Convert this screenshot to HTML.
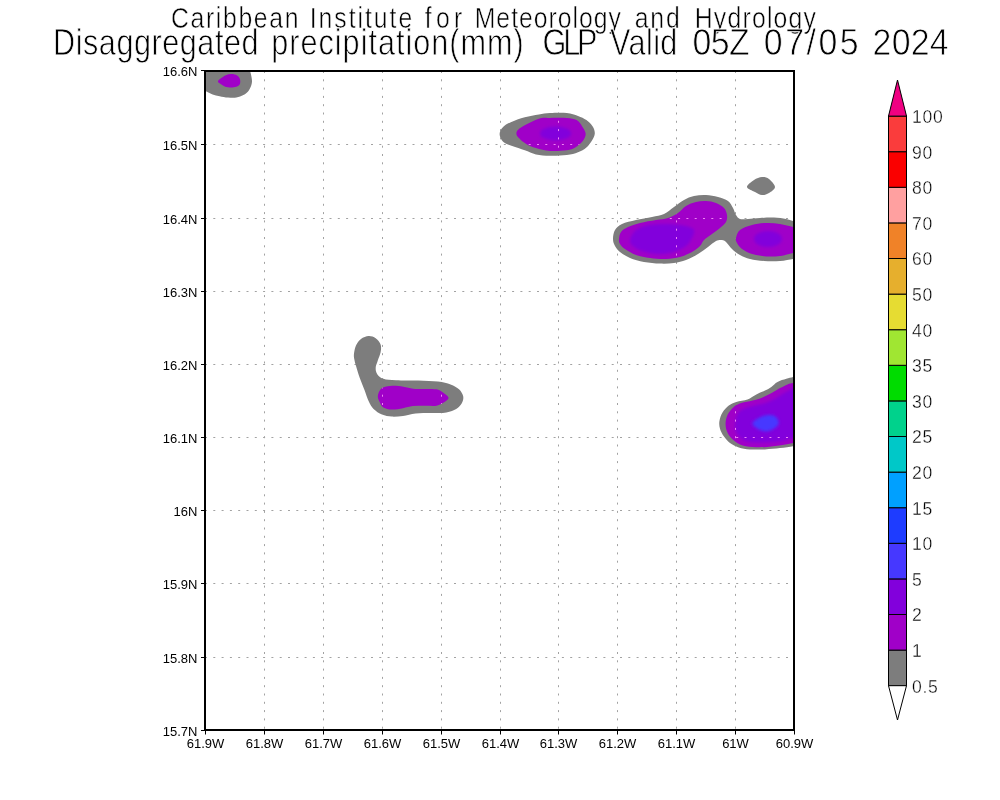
<!DOCTYPE html>
<html><head><meta charset="utf-8"><title>Disaggregated precipitation</title>
<style>
html,body{margin:0;padding:0;background:#fff;}
body{width:1000px;height:800px;overflow:hidden;}
svg{display:block;}
text{font-family:"Liberation Sans",sans-serif;fill:#000;}
.t1{font-size:29.5px;}
.t2{font-size:36.5px;}
.ax text{font-size:13px;}
.cb text{font-size:17.6px;letter-spacing:0.7px;}
.thin text{stroke:#fff;stroke-width:0.8px;}
.thin text.t1{stroke-width:0.55px;}
.cb .thin text{stroke-width:0.35px;}
</style></head><body>
<svg width="1000" height="800" viewBox="0 0 1000 800">
<defs>
<filter id="b" x="-30%" y="-30%" width="160%" height="160%"><feGaussianBlur stdDeviation="1.8"/></filter>
<clipPath id="mc"><path d="M217.9,81.5 C217.9,80.5 219.7,79.3 221.0,78.3 C222.3,77.2 224.2,75.9 225.9,75.2 C227.7,74.5 229.6,74.0 231.5,74.1 C233.4,74.1 235.7,74.7 237.1,75.5 C238.5,76.3 239.4,77.6 239.9,79.0 C240.4,80.4 240.5,82.6 239.9,83.9 C239.3,85.2 237.9,86.1 236.4,86.7 C234.9,87.3 232.7,87.4 230.8,87.4 C228.9,87.4 226.8,87.2 225.2,86.7 C223.6,86.2 222.2,85.2 221.0,84.3 C219.8,83.4 217.9,82.5 217.9,81.5Z"/><path d="M516.4,133.4 C516.6,131.7 516.9,130.2 520.6,127.8 C524.3,125.3 533.9,120.3 538.8,118.7 C543.7,117.1 545.3,118.1 550.0,118.0 C554.7,117.9 562.4,117.7 566.8,118.0 C571.2,118.3 574.0,118.7 576.6,120.1 C579.2,121.5 580.7,124.1 582.2,126.4 C583.7,128.7 585.7,131.5 585.7,134.1 C585.7,136.7 584.0,139.6 582.2,141.8 C580.5,144.0 577.8,146.0 575.2,147.4 C572.6,148.8 571.0,149.6 566.8,150.2 C562.6,150.8 555.1,151.2 550.0,150.9 C544.9,150.6 540.0,149.3 536.0,148.1 C532.0,146.9 529.0,145.5 526.2,143.9 C523.4,142.3 520.8,140.1 519.2,138.3 C517.6,136.6 516.2,135.2 516.4,133.4Z"/><path d="M619.0,239.0 C619.2,237.0 619.5,234.0 621.0,232.0 C622.5,230.0 624.8,228.5 628.0,227.0 C631.2,225.5 635.3,224.2 640.0,223.0 C644.7,221.8 651.3,220.8 656.0,220.0 C660.7,219.2 664.3,219.2 668.0,218.0 C671.7,216.8 675.0,215.0 678.0,213.0 C681.0,211.0 683.0,207.8 686.0,206.0 C689.0,204.2 692.7,202.8 696.0,202.0 C699.3,201.2 702.7,200.8 706.0,201.0 C709.3,201.2 713.0,201.8 716.0,203.0 C719.0,204.2 722.2,206.0 724.0,208.0 C725.8,210.0 726.7,212.7 727.0,215.0 C727.3,217.3 727.2,219.8 726.0,222.0 C724.8,224.2 722.3,226.0 720.0,228.0 C717.7,230.0 714.7,232.0 712.0,234.0 C709.3,236.0 706.0,238.0 704.0,240.0 C702.0,242.0 702.0,244.0 700.0,246.0 C698.0,248.0 695.3,250.2 692.0,252.0 C688.7,253.8 684.3,255.8 680.0,257.0 C675.7,258.2 671.0,258.8 666.0,259.0 C661.0,259.2 655.0,258.7 650.0,258.0 C645.0,257.3 640.2,256.5 636.0,255.0 C631.8,253.5 627.7,250.8 625.0,249.0 C622.3,247.2 621.0,245.7 620.0,244.0 C619.0,242.3 618.8,241.0 619.0,239.0Z"/><path d="M736.0,238.0 C736.5,235.8 737.3,232.2 740.0,230.0 C742.7,227.8 747.7,226.2 752.0,225.0 C756.3,223.8 761.3,223.2 766.0,223.0 C770.7,222.8 775.5,223.3 780.0,224.0 C784.5,224.7 789.7,226.3 793.0,227.0 C796.3,227.7 798.8,223.8 800.0,228.0 C801.2,232.2 801.2,247.8 800.0,252.0 C798.8,256.2 796.3,252.3 793.0,253.0 C789.7,253.7 784.5,255.4 780.0,256.0 C775.5,256.6 770.7,256.7 766.0,256.4 C761.3,256.1 756.0,255.2 752.0,254.0 C748.0,252.8 744.5,250.8 742.0,249.0 C739.5,247.2 738.0,244.8 737.0,243.0 C736.0,241.2 735.5,240.2 736.0,238.0Z"/><path d="M377.8,396.3 C377.9,394.1 379.2,390.9 380.6,389.3 C382.0,387.7 383.6,387.1 386.2,386.5 C388.8,385.9 392.7,385.7 396.0,385.8 C399.3,385.9 402.5,386.7 405.8,387.2 C409.1,387.7 412.1,388.6 415.6,388.9 C419.1,389.2 423.3,388.8 426.8,388.9 C430.3,389.0 434.0,388.8 436.6,389.3 C439.2,389.8 440.2,390.7 442.2,392.1 C444.2,393.5 448.3,395.9 448.5,397.7 C448.7,399.4 445.6,401.3 443.6,402.6 C441.6,403.9 439.9,405.2 436.6,405.7 C433.3,406.2 428.0,405.6 424.0,405.7 C420.0,405.8 416.3,405.7 412.8,406.1 C409.3,406.5 406.5,407.6 403.0,408.2 C399.5,408.8 395.1,409.7 391.8,409.6 C388.5,409.5 385.4,408.7 383.4,407.5 C381.4,406.3 380.8,404.5 379.9,402.6 C379.0,400.7 377.7,398.5 377.8,396.3Z"/><path d="M800.0,382.0 C798.9,372.2 795.2,382.7 793.1,383.1 C791.0,383.5 789.7,383.6 787.5,384.4 C785.3,385.2 782.5,386.8 780.0,388.1 C777.5,389.5 775.4,390.9 772.5,392.5 C769.6,394.1 765.8,396.1 762.5,397.5 C759.2,398.9 756.0,399.7 752.5,400.6 C749.0,401.5 744.4,402.1 741.3,403.1 C738.2,404.2 736.0,405.1 733.8,406.9 C731.6,408.7 729.5,411.2 728.1,413.8 C726.7,416.4 725.8,419.6 725.6,422.5 C725.4,425.4 725.9,428.6 726.9,431.3 C727.9,434.0 729.7,436.6 731.9,438.8 C734.1,441.0 736.6,443.0 740.0,444.4 C743.4,445.8 747.9,446.5 752.5,446.9 C757.1,447.3 762.5,447.2 767.5,446.9 C772.5,446.6 778.2,445.6 782.5,445.0 C786.8,444.4 790.2,443.6 793.1,443.1 C796.0,442.6 798.9,452.2 800.0,442.0 C801.1,431.8 801.1,391.8 800.0,382.0Z"/></clipPath>
<clipPath id="pc"><rect x="205.0" y="71.0" width="589.0" height="659.0"/></clipPath>
</defs>
<rect width="1000" height="800" fill="#fff"/>
<g class="thin">
<text class="t1" y="28" transform="scale(0.84,1)" x="203.57" textLength="151.79" lengthAdjust="spacing">Caribbean</text>
<text class="t1" y="28" transform="scale(0.84,1)" x="368.75" textLength="122.02" lengthAdjust="spacing">Institute</text>
<text class="t1" y="28" transform="scale(0.84,1)" x="505.65" textLength="44.64" lengthAdjust="spacing">for</text>
<text class="t1" y="28" transform="scale(0.84,1)" x="565.18" textLength="174.11" lengthAdjust="spacing">Meteorology</text>
<text class="t1" y="28" transform="scale(0.84,1)" x="755.65" textLength="53.57" lengthAdjust="spacing">and</text>
<text class="t1" y="28" transform="scale(0.84,1)" x="827.08" textLength="144.35" lengthAdjust="spacing">Hydrology</text>

<text class="t2" y="55.5" transform="scale(0.84,1)" x="63.21" textLength="244.64" lengthAdjust="spacing">Disaggregated</text>
<text class="t2" y="55.5" transform="scale(0.84,1)" x="323.04" textLength="300.30" lengthAdjust="spacing">precipitation(mm)</text>
<text class="t2" y="55.5" transform="scale(0.84,1)" x="645.95" textLength="65.18" lengthAdjust="spacing">GLP</text>
<text class="t2" y="55.5" transform="scale(0.84,1)" x="726.31" textLength="80.06" lengthAdjust="spacing">Valid</text>
<text class="t2" y="55.5" transform="scale(0.93,1)" x="744.73" textLength="61.56" lengthAdjust="spacing">05Z</text>
<text class="t2" y="55.5" transform="scale(0.93,1)" x="821.34" textLength="101.88" lengthAdjust="spacing">07/05</text>
<text class="t2" y="55.5" transform="scale(0.93,1)" x="938.28" textLength="81.72" lengthAdjust="spacing">2024</text>

</g>
<g stroke="#a2a2a2" stroke-width="1" stroke-dasharray="2 6.3" fill="none">
<line x1="264.50" y1="71.0" x2="264.50" y2="729.0"/>
<line x1="323.50" y1="71.0" x2="323.50" y2="729.0"/>
<line x1="382.50" y1="71.0" x2="382.50" y2="729.0"/>
<line x1="441.50" y1="71.0" x2="441.50" y2="729.0"/>
<line x1="500.50" y1="71.0" x2="500.50" y2="729.0"/>
<line x1="558.50" y1="71.0" x2="558.50" y2="729.0"/>
<line x1="617.50" y1="71.0" x2="617.50" y2="729.0"/>
<line x1="676.50" y1="71.0" x2="676.50" y2="729.0"/>
<line x1="735.50" y1="71.0" x2="735.50" y2="729.0"/>
<line x1="205.0" y1="144.50" x2="793.0" y2="144.50"/>
<line x1="205.0" y1="218.50" x2="793.0" y2="218.50"/>
<line x1="205.0" y1="291.50" x2="793.0" y2="291.50"/>
<line x1="205.0" y1="364.50" x2="793.0" y2="364.50"/>
<line x1="205.0" y1="437.50" x2="793.0" y2="437.50"/>
<line x1="205.0" y1="510.50" x2="793.0" y2="510.50"/>
<line x1="205.0" y1="583.50" x2="793.0" y2="583.50"/>
<line x1="205.0" y1="657.50" x2="793.0" y2="657.50"/>
</g>
<g clip-path="url(#pc)">
<path d="M196.0,56.0 C203.8,51.0 234.2,54.0 243.0,56.0 C251.8,58.0 247.6,64.5 249.0,68.0 C250.4,71.5 251.0,74.4 251.5,76.9 C252.0,79.4 252.2,81.0 251.8,83.2 C251.4,85.4 250.4,88.2 249.0,90.2 C247.6,92.2 245.5,93.9 243.4,95.1 C241.3,96.3 239.0,97.2 236.4,97.6 C233.8,98.0 230.8,97.8 228.0,97.6 C225.2,97.4 222.2,96.7 219.6,96.2 C217.0,95.7 214.9,95.2 212.6,94.4 C210.3,93.6 208.8,92.7 206.0,91.3 C203.2,89.9 197.7,91.9 196.0,86.0 C194.3,80.1 188.2,61.0 196.0,56.0Z" fill="#7d7d7d" />
<path d="M217.9,81.5 C217.9,80.5 219.7,79.3 221.0,78.3 C222.3,77.2 224.2,75.9 225.9,75.2 C227.7,74.5 229.6,74.0 231.5,74.1 C233.4,74.1 235.7,74.7 237.1,75.5 C238.5,76.3 239.4,77.6 239.9,79.0 C240.4,80.4 240.5,82.6 239.9,83.9 C239.3,85.2 237.9,86.1 236.4,86.7 C234.9,87.3 232.7,87.4 230.8,87.4 C228.9,87.4 226.8,87.2 225.2,86.7 C223.6,86.2 222.2,85.2 221.0,84.3 C219.8,83.4 217.9,82.5 217.9,81.5Z" fill="#a000c8" />
<path d="M499.6,134.1 C499.6,131.6 501.2,129.1 503.1,127.1 C505.0,125.1 507.2,123.8 510.8,122.2 C514.4,120.6 520.1,118.6 524.8,117.3 C529.5,116.0 534.6,115.2 538.8,114.5 C543.0,113.8 545.3,113.3 550.0,113.1 C554.7,112.9 562.1,112.6 566.8,113.1 C571.5,113.6 574.7,114.7 578.0,115.9 C581.3,117.1 583.9,118.3 586.4,120.1 C588.9,121.8 591.3,124.2 592.7,126.4 C594.1,128.6 594.9,131.1 594.8,133.4 C594.7,135.7 593.4,138.1 592.0,140.4 C590.6,142.7 588.7,145.4 586.4,147.4 C584.1,149.4 581.3,151.0 578.0,152.3 C574.7,153.6 571.5,154.5 566.8,155.1 C562.1,155.7 555.1,155.9 550.0,155.8 C544.9,155.7 540.2,155.3 536.0,154.4 C531.8,153.5 528.8,151.6 524.8,150.2 C520.8,148.8 515.8,147.4 512.2,146.0 C508.6,144.6 505.2,143.8 503.1,141.8 C501.0,139.8 499.6,136.6 499.6,134.1Z" fill="#7d7d7d" />
<path d="M516.4,133.4 C516.6,131.7 516.9,130.2 520.6,127.8 C524.3,125.3 533.9,120.3 538.8,118.7 C543.7,117.1 545.3,118.1 550.0,118.0 C554.7,117.9 562.4,117.7 566.8,118.0 C571.2,118.3 574.0,118.7 576.6,120.1 C579.2,121.5 580.7,124.1 582.2,126.4 C583.7,128.7 585.7,131.5 585.7,134.1 C585.7,136.7 584.0,139.6 582.2,141.8 C580.5,144.0 577.8,146.0 575.2,147.4 C572.6,148.8 571.0,149.6 566.8,150.2 C562.6,150.8 555.1,151.2 550.0,150.9 C544.9,150.6 540.0,149.3 536.0,148.1 C532.0,146.9 529.0,145.5 526.2,143.9 C523.4,142.3 520.8,140.1 519.2,138.3 C517.6,136.6 516.2,135.2 516.4,133.4Z" fill="#a000c8" />
<ellipse cx="555.6" cy="133.4" rx="15.5" ry="7" fill="#8200dc" filter="url(#b)"/>
<path d="M613.0,239.0 C613.0,236.3 613.5,232.5 615.0,230.0 C616.5,227.5 618.5,225.7 622.0,224.0 C625.5,222.3 631.0,221.2 636.0,220.0 C641.0,218.8 647.3,218.0 652.0,217.0 C656.7,216.0 660.3,215.7 664.0,214.0 C667.7,212.3 670.7,209.3 674.0,207.0 C677.3,204.7 680.7,201.8 684.0,200.0 C687.3,198.2 690.3,196.8 694.0,196.0 C697.7,195.2 702.0,194.8 706.0,195.0 C710.0,195.2 714.3,196.0 718.0,197.0 C721.7,198.0 725.5,199.2 728.0,201.0 C730.5,202.8 731.7,205.7 733.0,208.0 C734.3,210.3 734.8,213.2 736.0,215.0 C737.2,216.8 738.0,218.3 740.0,219.0 C742.0,219.7 744.7,219.2 748.0,219.0 C751.3,218.8 755.7,218.2 760.0,218.0 C764.3,217.8 769.7,217.4 774.0,217.6 C778.3,217.8 782.8,218.4 786.0,219.0 C789.2,219.6 790.7,220.3 793.0,221.0 C795.3,221.7 798.8,216.8 800.0,223.0 C801.2,229.2 801.2,252.0 800.0,258.0 C798.8,264.0 796.3,258.5 793.0,259.0 C789.7,259.5 784.8,260.7 780.0,261.0 C775.2,261.3 769.0,261.3 764.0,261.0 C759.0,260.7 754.0,260.0 750.0,259.0 C746.0,258.0 743.0,256.7 740.0,255.0 C737.0,253.3 734.3,251.2 732.0,249.0 C729.7,246.8 727.7,243.5 726.0,242.0 C724.3,240.5 723.7,240.2 722.0,240.0 C720.3,239.8 718.3,239.8 716.0,241.0 C713.7,242.2 711.0,244.8 708.0,247.0 C705.0,249.2 701.7,251.8 698.0,254.0 C694.3,256.2 690.0,258.5 686.0,260.0 C682.0,261.5 678.3,262.4 674.0,263.0 C669.7,263.6 665.0,263.8 660.0,263.6 C655.0,263.4 649.0,262.9 644.0,262.0 C639.0,261.1 634.0,259.7 630.0,258.0 C626.0,256.3 622.5,254.0 620.0,252.0 C617.5,250.0 616.2,248.2 615.0,246.0 C613.8,243.8 613.0,241.7 613.0,239.0Z" fill="#7d7d7d" />
<path d="M619.0,239.0 C619.2,237.0 619.5,234.0 621.0,232.0 C622.5,230.0 624.8,228.5 628.0,227.0 C631.2,225.5 635.3,224.2 640.0,223.0 C644.7,221.8 651.3,220.8 656.0,220.0 C660.7,219.2 664.3,219.2 668.0,218.0 C671.7,216.8 675.0,215.0 678.0,213.0 C681.0,211.0 683.0,207.8 686.0,206.0 C689.0,204.2 692.7,202.8 696.0,202.0 C699.3,201.2 702.7,200.8 706.0,201.0 C709.3,201.2 713.0,201.8 716.0,203.0 C719.0,204.2 722.2,206.0 724.0,208.0 C725.8,210.0 726.7,212.7 727.0,215.0 C727.3,217.3 727.2,219.8 726.0,222.0 C724.8,224.2 722.3,226.0 720.0,228.0 C717.7,230.0 714.7,232.0 712.0,234.0 C709.3,236.0 706.0,238.0 704.0,240.0 C702.0,242.0 702.0,244.0 700.0,246.0 C698.0,248.0 695.3,250.2 692.0,252.0 C688.7,253.8 684.3,255.8 680.0,257.0 C675.7,258.2 671.0,258.8 666.0,259.0 C661.0,259.2 655.0,258.7 650.0,258.0 C645.0,257.3 640.2,256.5 636.0,255.0 C631.8,253.5 627.7,250.8 625.0,249.0 C622.3,247.2 621.0,245.7 620.0,244.0 C619.0,242.3 618.8,241.0 619.0,239.0Z" fill="#a000c8" />
<path d="M630.0,240.0 C630.5,237.3 632.7,232.5 636.0,230.0 C639.3,227.5 644.3,226.0 650.0,225.0 C655.7,224.0 664.0,223.8 670.0,224.0 C676.0,224.2 682.0,225.0 686.0,226.0 C690.0,227.0 693.0,228.0 694.0,230.0 C695.0,232.0 693.3,235.3 692.0,238.0 C690.7,240.7 689.0,243.7 686.0,246.0 C683.0,248.3 678.7,250.7 674.0,252.0 C669.3,253.3 663.3,254.2 658.0,254.0 C652.7,253.8 646.2,252.3 642.0,251.0 C637.8,249.7 635.0,247.8 633.0,246.0 C631.0,244.2 629.5,242.7 630.0,240.0Z" fill="#8200dc" filter="url(#b)"/>
<path d="M736.0,238.0 C736.5,235.8 737.3,232.2 740.0,230.0 C742.7,227.8 747.7,226.2 752.0,225.0 C756.3,223.8 761.3,223.2 766.0,223.0 C770.7,222.8 775.5,223.3 780.0,224.0 C784.5,224.7 789.7,226.3 793.0,227.0 C796.3,227.7 798.8,223.8 800.0,228.0 C801.2,232.2 801.2,247.8 800.0,252.0 C798.8,256.2 796.3,252.3 793.0,253.0 C789.7,253.7 784.5,255.4 780.0,256.0 C775.5,256.6 770.7,256.7 766.0,256.4 C761.3,256.1 756.0,255.2 752.0,254.0 C748.0,252.8 744.5,250.8 742.0,249.0 C739.5,247.2 738.0,244.8 737.0,243.0 C736.0,241.2 735.5,240.2 736.0,238.0Z" fill="#a000c8" />
<ellipse cx="768" cy="239" rx="14" ry="8" fill="#8200dc" filter="url(#b)"/>
<path d="M747.0,187.0 C746.8,185.0 751.5,181.7 754.0,180.0 C756.5,178.3 759.5,177.2 762.0,177.0 C764.5,176.8 766.8,177.3 769.0,179.0 C771.2,180.7 775.0,184.7 775.0,187.0 C775.0,189.3 771.2,191.7 769.0,193.0 C766.8,194.3 764.3,195.2 762.0,195.0 C759.7,194.8 757.5,193.3 755.0,192.0 C752.5,190.7 747.2,189.0 747.0,187.0Z" fill="#7d7d7d" />
<path d="M354.0,353.6 C354.3,351.3 354.9,347.6 356.1,345.2 C357.3,342.8 358.9,340.4 361.0,338.9 C363.1,337.4 366.2,336.2 368.7,336.1 C371.1,336.0 373.7,336.8 375.7,338.2 C377.7,339.6 379.8,342.2 380.6,344.5 C381.4,346.8 381.1,349.5 380.6,352.2 C380.1,354.9 378.6,358.0 377.8,360.6 C377.0,363.2 375.8,365.4 375.7,367.6 C375.6,369.8 375.8,372.0 377.1,373.9 C378.4,375.8 380.2,377.8 383.4,378.8 C386.5,379.9 390.2,379.9 396.0,380.2 C401.8,380.5 411.4,380.3 418.4,380.5 C425.4,380.7 432.6,381.0 438.0,381.6 C443.4,382.2 447.1,383.1 450.6,384.4 C454.1,385.7 456.9,387.3 459.0,389.3 C461.1,391.3 462.7,394.0 463.2,396.3 C463.7,398.6 463.0,401.2 461.8,403.3 C460.6,405.4 458.8,407.4 456.2,408.9 C453.6,410.4 450.6,411.7 446.4,412.4 C442.2,413.1 436.1,412.9 431.0,413.1 C425.9,413.3 420.3,413.0 415.6,413.5 C410.9,414.0 407.0,415.4 403.0,415.9 C399.0,416.4 395.3,416.8 391.8,416.6 C388.3,416.4 385.0,415.8 382.0,414.5 C379.0,413.2 375.8,411.1 373.6,408.9 C371.4,406.7 370.2,404.3 368.7,401.2 C367.2,398.1 366.0,394.0 364.5,390.0 C363.0,386.0 361.0,381.4 359.6,377.4 C358.2,373.4 357.0,369.2 356.1,366.2 C355.2,363.2 354.7,361.3 354.3,359.2 C353.9,357.1 353.7,355.9 354.0,353.6Z" fill="#7d7d7d" />
<path d="M377.8,396.3 C377.9,394.1 379.2,390.9 380.6,389.3 C382.0,387.7 383.6,387.1 386.2,386.5 C388.8,385.9 392.7,385.7 396.0,385.8 C399.3,385.9 402.5,386.7 405.8,387.2 C409.1,387.7 412.1,388.6 415.6,388.9 C419.1,389.2 423.3,388.8 426.8,388.9 C430.3,389.0 434.0,388.8 436.6,389.3 C439.2,389.8 440.2,390.7 442.2,392.1 C444.2,393.5 448.3,395.9 448.5,397.7 C448.7,399.4 445.6,401.3 443.6,402.6 C441.6,403.9 439.9,405.2 436.6,405.7 C433.3,406.2 428.0,405.6 424.0,405.7 C420.0,405.8 416.3,405.7 412.8,406.1 C409.3,406.5 406.5,407.6 403.0,408.2 C399.5,408.8 395.1,409.7 391.8,409.6 C388.5,409.5 385.4,408.7 383.4,407.5 C381.4,406.3 380.8,404.5 379.9,402.6 C379.0,400.7 377.7,398.5 377.8,396.3Z" fill="#a000c8" />
<path d="M800.0,376.0 C798.9,364.6 795.4,376.4 793.1,376.9 C790.8,377.4 788.9,378.0 786.3,378.8 C783.7,379.6 780.0,380.5 777.5,381.9 C775.0,383.2 773.4,385.4 771.3,386.9 C769.2,388.3 767.5,389.4 765.0,390.6 C762.5,391.9 759.2,392.9 756.3,394.4 C753.4,395.9 750.8,398.1 747.5,399.4 C744.2,400.6 739.4,400.9 736.3,401.9 C733.2,402.9 731.1,403.8 728.8,405.6 C726.5,407.4 724.1,409.9 722.5,412.5 C720.9,415.1 719.8,418.6 719.4,421.3 C719.0,424.0 719.3,426.3 720.0,428.8 C720.7,431.3 722.1,433.9 723.8,436.3 C725.5,438.7 727.5,441.2 730.0,443.1 C732.5,445.0 735.5,446.4 738.8,447.5 C742.1,448.6 745.6,449.1 750.0,449.4 C754.4,449.7 760.0,449.6 765.0,449.4 C770.0,449.2 775.3,448.6 780.0,448.1 C784.7,447.6 789.8,446.8 793.1,446.3 C796.4,445.8 798.9,456.7 800.0,445.0 C801.1,433.3 801.1,387.4 800.0,376.0Z" fill="#7d7d7d" />
<path d="M800.0,382.0 C798.9,372.2 795.2,382.7 793.1,383.1 C791.0,383.5 789.7,383.6 787.5,384.4 C785.3,385.2 782.5,386.8 780.0,388.1 C777.5,389.5 775.4,390.9 772.5,392.5 C769.6,394.1 765.8,396.1 762.5,397.5 C759.2,398.9 756.0,399.7 752.5,400.6 C749.0,401.5 744.4,402.1 741.3,403.1 C738.2,404.2 736.0,405.1 733.8,406.9 C731.6,408.7 729.5,411.2 728.1,413.8 C726.7,416.4 725.8,419.6 725.6,422.5 C725.4,425.4 725.9,428.6 726.9,431.3 C727.9,434.0 729.7,436.6 731.9,438.8 C734.1,441.0 736.6,443.0 740.0,444.4 C743.4,445.8 747.9,446.5 752.5,446.9 C757.1,447.3 762.5,447.2 767.5,446.9 C772.5,446.6 778.2,445.6 782.5,445.0 C786.8,444.4 790.2,443.6 793.1,443.1 C796.0,442.6 798.9,452.2 800.0,442.0 C801.1,431.8 801.1,391.8 800.0,382.0Z" fill="#a000c8" />
<path d="M800.0,384.5 C798.9,376.5 795.6,386.8 793.1,388.2 C790.6,389.6 788.0,390.8 785.0,392.6 C782.0,394.4 778.3,397.0 775.0,398.8 C771.7,400.6 768.5,402.1 765.0,403.2 C761.5,404.3 757.2,404.8 753.8,405.7 C750.3,406.6 746.9,407.4 744.3,408.6 C741.7,409.8 739.7,410.9 738.2,413.0 C736.8,415.1 736.0,418.5 735.6,421.3 C735.2,424.1 734.9,427.3 735.6,430.0 C736.3,432.7 737.6,435.5 740.0,437.5 C742.4,439.5 745.8,441.1 750.0,441.9 C754.2,442.7 760.0,442.6 765.0,442.5 C770.0,442.4 775.3,442.0 780.0,441.3 C784.7,440.6 789.8,439.0 793.1,438.1 C796.4,437.2 798.9,444.9 800.0,436.0 C801.1,427.1 801.1,392.5 800.0,384.5Z" fill="#8200dc" filter="url(#b)"/>
<path d="M752.5,423.8 C752.3,421.8 756.3,419.6 758.8,418.1 C761.3,416.6 764.8,415.3 767.5,415.0 C770.2,414.7 773.1,415.1 775.0,416.3 C776.9,417.6 778.8,420.5 778.8,422.5 C778.8,424.5 776.9,426.6 775.0,428.1 C773.1,429.6 770.0,431.0 767.5,431.3 C765.0,431.6 762.5,431.2 760.0,430.0 C757.5,428.8 752.7,425.8 752.5,423.8Z" fill="#4638ff" filter="url(#b)"/>
</g>
<g clip-path="url(#mc)"><g stroke="#ee86f4" stroke-width="1" stroke-dasharray="2 6.3" fill="none">
<line x1="264.50" y1="71.0" x2="264.50" y2="729.0"/>
<line x1="323.50" y1="71.0" x2="323.50" y2="729.0"/>
<line x1="382.50" y1="71.0" x2="382.50" y2="729.0"/>
<line x1="441.50" y1="71.0" x2="441.50" y2="729.0"/>
<line x1="500.50" y1="71.0" x2="500.50" y2="729.0"/>
<line x1="558.50" y1="71.0" x2="558.50" y2="729.0"/>
<line x1="617.50" y1="71.0" x2="617.50" y2="729.0"/>
<line x1="676.50" y1="71.0" x2="676.50" y2="729.0"/>
<line x1="735.50" y1="71.0" x2="735.50" y2="729.0"/>
<line x1="205.0" y1="144.50" x2="793.0" y2="144.50"/>
<line x1="205.0" y1="218.50" x2="793.0" y2="218.50"/>
<line x1="205.0" y1="291.50" x2="793.0" y2="291.50"/>
<line x1="205.0" y1="364.50" x2="793.0" y2="364.50"/>
<line x1="205.0" y1="437.50" x2="793.0" y2="437.50"/>
<line x1="205.0" y1="510.50" x2="793.0" y2="510.50"/>
<line x1="205.0" y1="583.50" x2="793.0" y2="583.50"/>
<line x1="205.0" y1="657.50" x2="793.0" y2="657.50"/>
</g></g>
<rect x="205.0" y="71.0" width="589.0" height="659.0" fill="none" stroke="#000" stroke-width="2"/>
<g stroke="#000" stroke-width="1">
<line x1="201.0" y1="70.50" x2="205.0" y2="70.50"/>
<line x1="201.0" y1="144.50" x2="205.0" y2="144.50"/>
<line x1="201.0" y1="218.50" x2="205.0" y2="218.50"/>
<line x1="201.0" y1="291.50" x2="205.0" y2="291.50"/>
<line x1="201.0" y1="364.50" x2="205.0" y2="364.50"/>
<line x1="201.0" y1="437.50" x2="205.0" y2="437.50"/>
<line x1="201.0" y1="510.50" x2="205.0" y2="510.50"/>
<line x1="201.0" y1="583.50" x2="205.0" y2="583.50"/>
<line x1="201.0" y1="657.50" x2="205.0" y2="657.50"/>
<line x1="201.0" y1="730.50" x2="205.0" y2="730.50"/>
<line x1="205.50" y1="730.0" x2="205.50" y2="734.5"/>
<line x1="264.50" y1="730.0" x2="264.50" y2="734.5"/>
<line x1="323.50" y1="730.0" x2="323.50" y2="734.5"/>
<line x1="382.50" y1="730.0" x2="382.50" y2="734.5"/>
<line x1="441.50" y1="730.0" x2="441.50" y2="734.5"/>
<line x1="500.50" y1="730.0" x2="500.50" y2="734.5"/>
<line x1="558.50" y1="730.0" x2="558.50" y2="734.5"/>
<line x1="617.50" y1="730.0" x2="617.50" y2="734.5"/>
<line x1="676.50" y1="730.0" x2="676.50" y2="734.5"/>
<line x1="735.50" y1="730.0" x2="735.50" y2="734.5"/>
<line x1="794.50" y1="730.0" x2="794.50" y2="734.5"/>
</g>
<g class="ax">
<text x="197.4" y="76.3" text-anchor="end">16.6N</text>
<text x="197.4" y="150.3" text-anchor="end">16.5N</text>
<text x="197.4" y="224.3" text-anchor="end">16.4N</text>
<text x="197.4" y="297.3" text-anchor="end">16.3N</text>
<text x="197.4" y="370.3" text-anchor="end">16.2N</text>
<text x="197.4" y="443.3" text-anchor="end">16.1N</text>
<text x="197.4" y="516.3" text-anchor="end">16N</text>
<text x="197.4" y="589.3" text-anchor="end">15.9N</text>
<text x="197.4" y="663.3" text-anchor="end">15.8N</text>
<text x="197.4" y="736.3" text-anchor="end">15.7N</text>
<text x="205.5" y="747.8" text-anchor="middle">61.9W</text>
<text x="264.5" y="747.8" text-anchor="middle">61.8W</text>
<text x="323.5" y="747.8" text-anchor="middle">61.7W</text>
<text x="382.5" y="747.8" text-anchor="middle">61.6W</text>
<text x="441.5" y="747.8" text-anchor="middle">61.5W</text>
<text x="500.5" y="747.8" text-anchor="middle">61.4W</text>
<text x="558.5" y="747.8" text-anchor="middle">61.3W</text>
<text x="617.5" y="747.8" text-anchor="middle">61.2W</text>
<text x="676.5" y="747.8" text-anchor="middle">61.1W</text>
<text x="735.5" y="747.8" text-anchor="middle">61W</text>
<text x="794.5" y="747.8" text-anchor="middle">60.9W</text>
</g>
<g class="cb">
<rect x="888.5" y="650.10" width="18.0" height="35.60" fill="#7d7d7d" stroke="#000" stroke-width="1"/>
<rect x="888.5" y="614.50" width="18.0" height="35.60" fill="#a000c8" stroke="#000" stroke-width="1"/>
<rect x="888.5" y="578.90" width="18.0" height="35.60" fill="#8200dc" stroke="#000" stroke-width="1"/>
<rect x="888.5" y="543.30" width="18.0" height="35.60" fill="#4638ff" stroke="#000" stroke-width="1"/>
<rect x="888.5" y="507.70" width="18.0" height="35.60" fill="#1e3cff" stroke="#000" stroke-width="1"/>
<rect x="888.5" y="472.10" width="18.0" height="35.60" fill="#00a0ff" stroke="#000" stroke-width="1"/>
<rect x="888.5" y="436.50" width="18.0" height="35.60" fill="#00c8c8" stroke="#000" stroke-width="1"/>
<rect x="888.5" y="400.90" width="18.0" height="35.60" fill="#00d28c" stroke="#000" stroke-width="1"/>
<rect x="888.5" y="365.30" width="18.0" height="35.60" fill="#00dc00" stroke="#000" stroke-width="1"/>
<rect x="888.5" y="329.70" width="18.0" height="35.60" fill="#a0e632" stroke="#000" stroke-width="1"/>
<rect x="888.5" y="294.10" width="18.0" height="35.60" fill="#e6dc32" stroke="#000" stroke-width="1"/>
<rect x="888.5" y="258.50" width="18.0" height="35.60" fill="#e6af2d" stroke="#000" stroke-width="1"/>
<rect x="888.5" y="222.90" width="18.0" height="35.60" fill="#f08228" stroke="#000" stroke-width="1"/>
<rect x="888.5" y="187.30" width="18.0" height="35.60" fill="#ffa0a0" stroke="#000" stroke-width="1"/>
<rect x="888.5" y="151.70" width="18.0" height="35.60" fill="#fa0000" stroke="#000" stroke-width="1"/>
<rect x="888.5" y="116.10" width="18.0" height="35.60" fill="#fa3c3c" stroke="#000" stroke-width="1"/>
<path d="M888.5,116.1 L897.5,80 L906.5,116.1Z" fill="#f00082" stroke="#000" stroke-width="1"/>
<path d="M888.5,685.7 L897.5,720 L906.5,685.7Z" fill="#fff" stroke="#000" stroke-width="1"/>
<g class="thin">
<text x="912" y="692.6">0.5</text>
<text x="912" y="657.0">1</text>
<text x="912" y="621.4">2</text>
<text x="912" y="585.8">5</text>
<text x="912" y="550.2">10</text>
<text x="912" y="514.6">15</text>
<text x="912" y="479.0">20</text>
<text x="912" y="443.4">25</text>
<text x="912" y="407.8">30</text>
<text x="912" y="372.2">35</text>
<text x="912" y="336.6">40</text>
<text x="912" y="301.0">50</text>
<text x="912" y="265.4">60</text>
<text x="912" y="229.8">70</text>
<text x="912" y="194.2">80</text>
<text x="912" y="158.6">90</text>
<text x="912" y="123.0">100</text>
</g>
</g>
</svg>
</body></html>
